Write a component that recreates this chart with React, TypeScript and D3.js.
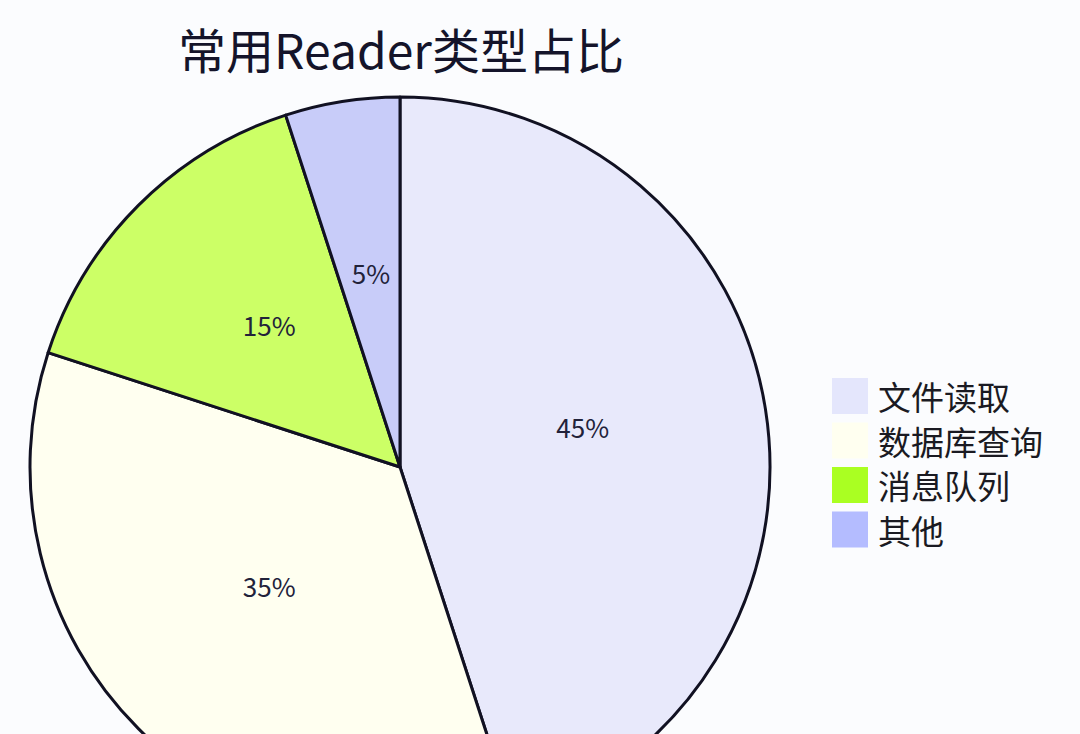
import { useEffect, useRef } from "react";
import * as d3 from "d3";

const title = "常用Reader类型占比";
const categories = ["文件读取", "数据库查询", "消息队列", "其他"];
const shares = [45, 35, 15, 5];
const sliceColors = ["#e8e9fb", "#fffff0", "#ccff66", "#c8ccf9"];
const legendColors = ["#e4e6fc", "#fffff0", "#aaff22", "#b4bcff"];

const W = 1080;
const H = 734;

const App = () => {
  const ref = useRef<SVGSVGElement | null>(null);

  useEffect(() => {
    if (!ref.current) return;
    const svg = d3.select(ref.current).html("");

    svg.append("rect").attr("width", W).attr("height", H).attr("fill", "#fbfcfe");

    const cx = 400;
    const cy = 467;
    const r = 370;
    const font = "'Noto Sans CJK SC', 'Noto Sans', sans-serif";

    const data = categories.map((c, i) => ({ name: c, value: shares[i], color: sliceColors[i] }));
    const pie = d3.pie<typeof data[number]>().value((d) => d.value).sort(null);
    const arc = d3.arc<d3.PieArcDatum<typeof data[number]>>().innerRadius(0).outerRadius(r);
    const labelArc = d3.arc<d3.PieArcDatum<typeof data[number]>>().innerRadius(r * 0.5).outerRadius(r * 0.5);

    const g = svg.append("g").attr("transform", `translate(${cx},${cy})`);
    const arcs = pie(data);

    g.selectAll("path")
      .data(arcs)
      .enter()
      .append("path")
      .attr("d", arc as any)
      .attr("fill", (d) => d.data.color)
      .attr("stroke", "#111122")
      .attr("stroke-width", 3)
      .attr("stroke-linejoin", "round");

    g.selectAll("text.lbl")
      .data(arcs)
      .enter()
      .append("text")
      .attr("class", "lbl")
      .attr("transform", (d) => {
        const [x, y] = labelArc.centroid(d);
        return `translate(${x},${y - 12})`;
      })
      .attr("text-anchor", "middle")
      .attr("dominant-baseline", "central")
      .attr("font-family", font)
      .attr("font-size", 26)
      .attr("fill", "#22223a")
      .text((d) => `${d.data.value}%`);

    // Title
    svg.append("text")
      .attr("x", 401)
      .attr("y", 48)
      .attr("text-anchor", "middle")
      .attr("dominant-baseline", "central")
      .attr("font-family", font)
      .attr("font-size", 48)
      .attr("fill", "#14142a")
      .text(title);

    // Legend
    const legend = svg.append("g").attr("transform", "translate(832,378)");
    const rows = legend.selectAll("g")
      .data(categories)
      .enter()
      .append("g")
      .attr("transform", (_, i) => `translate(0,${i * 44.5})`);

    rows.append("rect")
      .attr("width", 36)
      .attr("height", 36)
      .attr("fill", (_, i) => legendColors[i]);

    rows.append("text")
      .attr("x", 46)
      .attr("y", 18)
      .attr("dominant-baseline", "central")
      .attr("font-family", font)
      .attr("font-size", 33)
      .attr("fill", "#1a1a22")
      .text((d) => d);
  }, []);

  return (
    <div style={{ position: "fixed", left: 0, top: 0, width: W, height: H, overflow: "hidden" }}>
      <svg ref={ref} width={W} height={H} style={{ display: "block" }}></svg>
    </div>
  );
};

export default App;
